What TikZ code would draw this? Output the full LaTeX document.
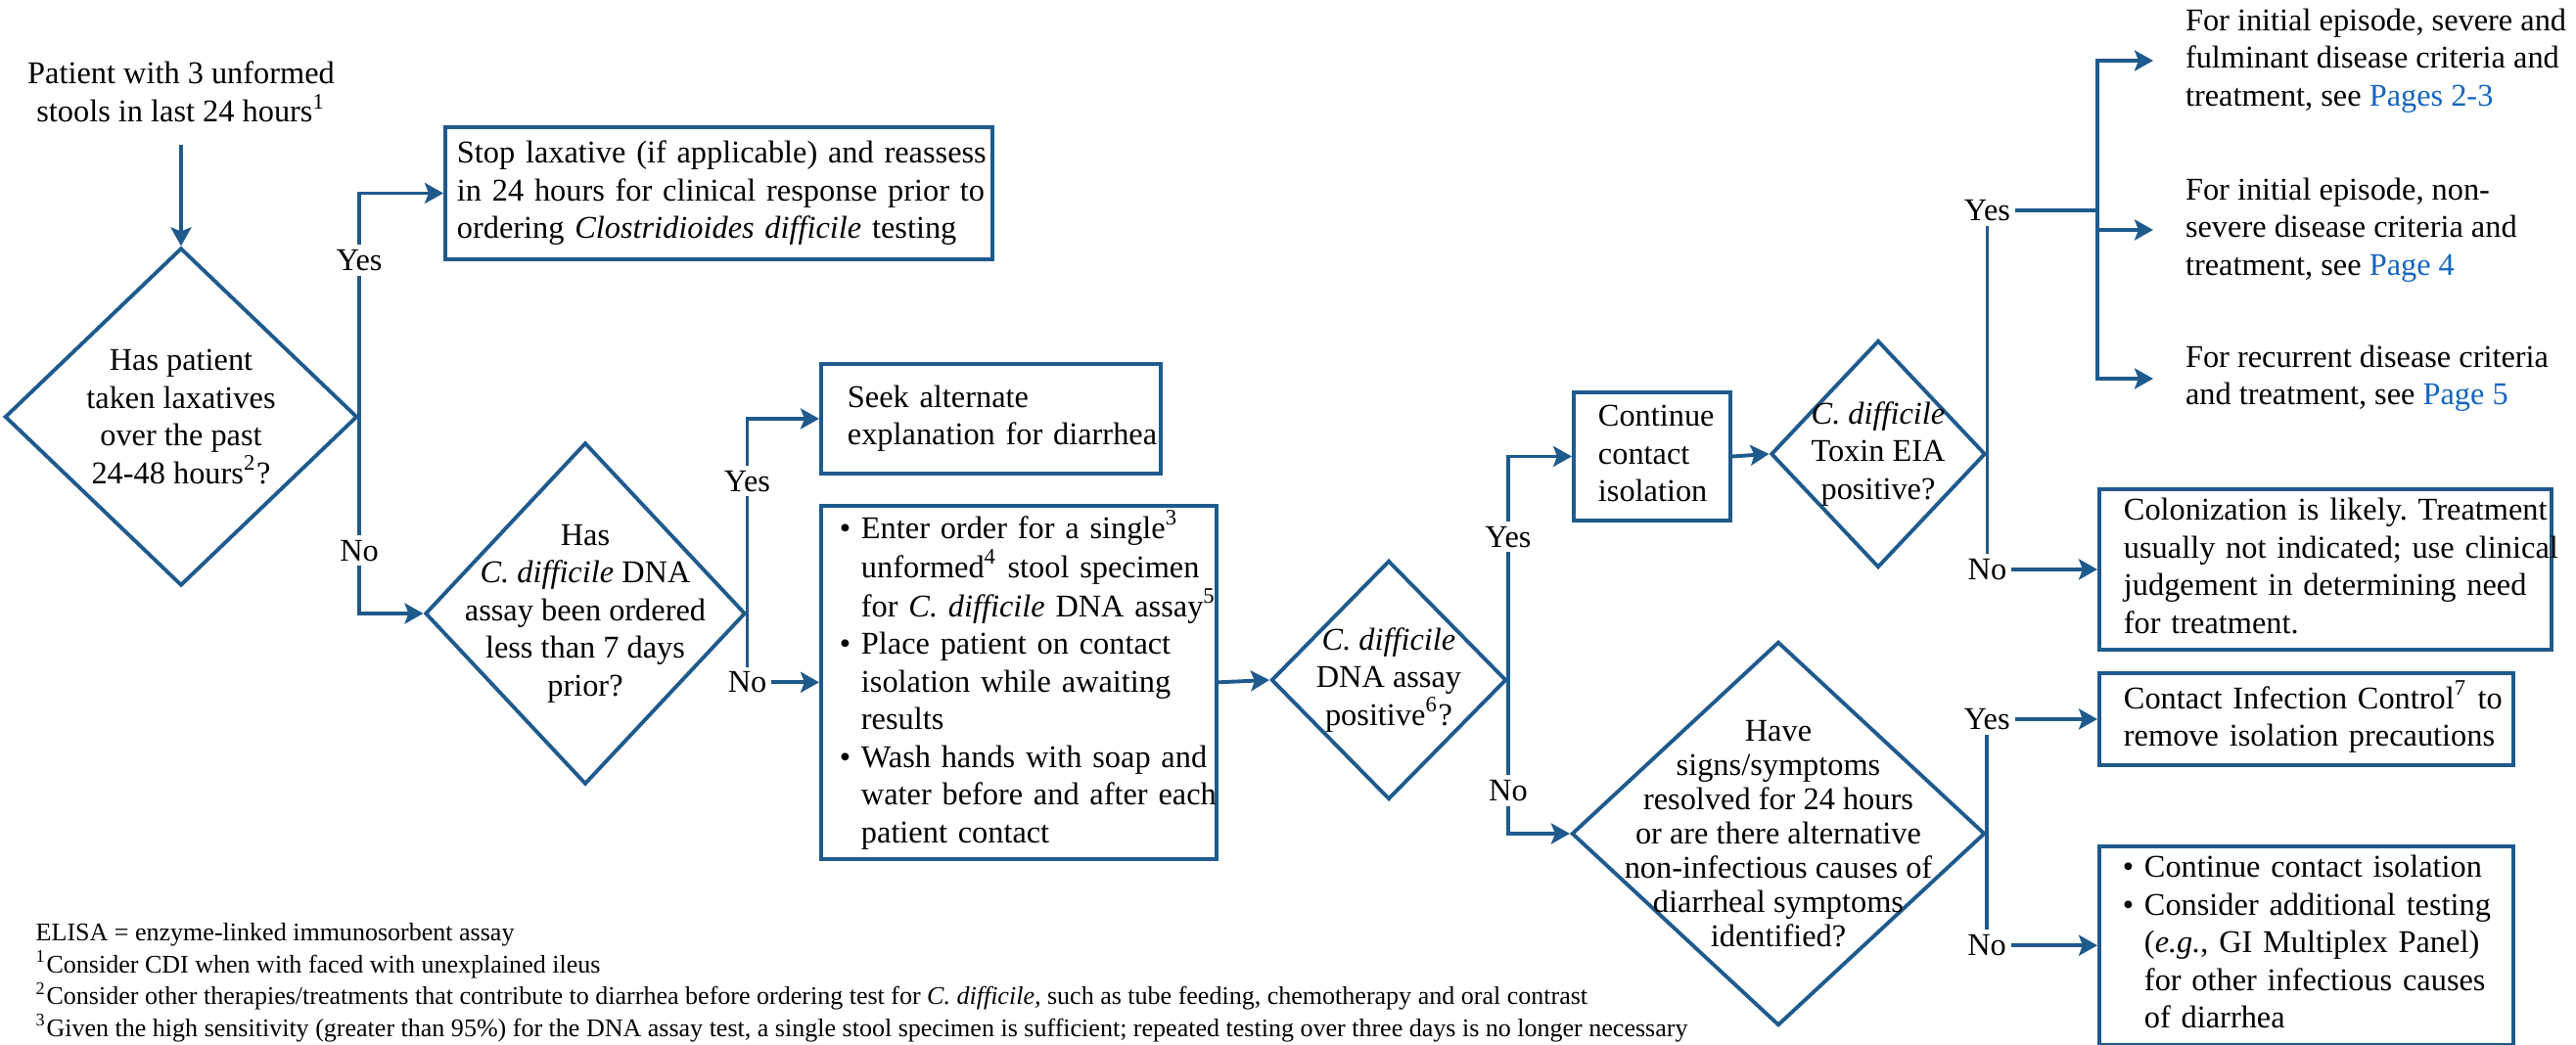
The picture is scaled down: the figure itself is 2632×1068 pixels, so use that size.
\documentclass[tikz,border=0pt]{standalone}
\usepackage{fontspec}
\setmainfont{Liberation Serif}
\usetikzlibrary{arrows.meta, shapes.geometric}
\definecolor{flow}{HTML}{1F5A8D}
\definecolor{pagelink}{HTML}{1565C0}
\frenchspacing
\newcommand{\mainsize}{\fontsize{9.2pt}{10.95pt}\selectfont}
\newcommand{\tightsize}{\fontsize{9.2pt}{9.96pt}\selectfont}
\newcommand{\notesize}{\fontsize{7.4pt}{9.25pt}\selectfont}
\newcommand{\rows}[1]{\begin{tabular}{@{}l@{}}#1\end{tabular}}
\newcommand{\bul}{\makebox[0.22cm][l]{\textbullet}}
\newcommand{\ind}{\hspace*{0.22cm}}
\begin{document}
\begin{tikzpicture}[x=0.01cm, y=-0.01cm,
    every node/.style={font=\mainsize},
    stepbox/.style={draw=flow, line width=1.1pt, rectangle, anchor=north west, align=left, inner ysep=0.05cm},
    decision/.style={draw=flow, line width=1.1pt, diamond, inner sep=0pt},
    plain/.style={inner sep=0pt, align=left},
    lbl/.style={fill=white, inner sep=0.05cm},
    conn/.style={draw=flow, line width=1.1pt, -{Stealth[length=0.19cm, width=0.21cm, inset=0.04cm]}},
    trunk/.style={draw=flow, line width=1.1pt}]
    \useasboundingbox (0,0) rectangle (2632,1068);

    \node[align=center, inner sep=0pt] (start) at (185,94) {Patient with 3 unformed\\stools in last 24 hours\textsuperscript{1}};
    \node[decision, minimum width=3.6cm, minimum height=3.45cm,
        label={[align=center]center:{Has patient\\taken laxatives\\over the past\\24-48 hours\textsuperscript{2}?}}] (d1) at (185,426) {};
    \node[stepbox, text width=5.35cm, inner xsep=0.12cm, minimum height=1.35cm] (stop) at (453,128)
        {\rows{Stop laxative (if applicable) and reassess\\in 24 hours for clinical response prior to\\ordering \textit{Clostridioides difficile} testing}};
    \node[decision, minimum width=3.27cm, minimum height=3.49cm,
        label={[align=center]center:{Has\\\textit{C. difficile} DNA\\assay been ordered\\less than 7 days\\prior?}}] (d2) at (598,627) {};
    \node[stepbox, text width=2.93cm, inner xsep=0.27cm, minimum height=1.12cm] (seek) at (837,370)
        {\rows{Seek alternate\\explanation for diarrhea}};
    \node[stepbox, text width=3.66cm, inner xsep=0.19cm, minimum height=3.6cm] (order) at (837,515)
        {\rows{\bul Enter order for a single\textsuperscript{3}\\\ind unformed\textsuperscript{4} stool specimen\\\ind for \textit{C. difficile} DNA assay\textsuperscript{5}\\\bul Place patient on contact\\\ind isolation while awaiting\\\ind results\\\bul Wash hands with soap and\\\ind water before and after each\\\ind patient contact}};
    \node[decision, minimum width=2.4cm, minimum height=2.44cm,
        label={[align=center]center:{\textit{C. difficile}\\DNA assay\\positive\textsuperscript{6}?}}] (d3) at (1419,695) {};
    \node[stepbox, text width=1.1cm, inner xsep=0.25cm, minimum height=1.31cm] (cont) at (1606,399)
        {\rows{Continue\\contact\\isolation}};
    \node[decision, minimum width=2.19cm, minimum height=2.32cm,
        label={[align=center]center:{\textit{C. difficile}\\Toxin EIA\\positive?}}] (d4) at (1919,464) {};
    \node[decision, minimum width=4.22cm, minimum height=3.92cm,
        label={[align=center, font=\tightsize]center:{Have\\signs/symptoms\\resolved for 24 hours\\or are there alternative\\non-infectious causes of\\diarrheal symptoms\\identified?}}] (d5) at (1817,852) {};

    \coordinate (fork) at (2143,215);
    \node[plain, anchor=west, outer xsep=0.33cm] (p23) at (2200,62)
        {For initial episode, severe and\\fulminant disease criteria and\\treatment, see \textcolor{pagelink}{Pages 2-3}};
    \node[plain, anchor=west, outer xsep=0.33cm] (p4) at (2200,235)
        {For initial episode, non-\\severe disease criteria and\\treatment, see \textcolor{pagelink}{Page 4}};
    \node[plain, anchor=west, outer xsep=0.33cm] (p5) at (2200,387)
        {For recurrent disease criteria\\and treatment, see \textcolor{pagelink}{Page 5}};
    \node[stepbox, text width=4.12cm, inner xsep=0.25cm, minimum height=1.63cm] (colon) at (2143,498)
        {\rows{Colonization is likely. Treatment\\usually not indicated; use clinical\\judgement in determining need\\for treatment.}};
    \node[stepbox, text width=3.73cm, inner xsep=0.25cm, minimum height=0.94cm] (infect) at (2143,686)
        {\rows{Contact Infection Control\textsuperscript{7} to\\remove isolation precautions}};
    \node[stepbox, text width=3.75cm, inner xsep=0.24cm, minimum height=2.02cm] (other) at (2143,863)
        {\rows{\bul Continue contact isolation\\\bul Consider additional testing\\\ind (\textit{e.g.}, GI Multiplex Panel)\\\ind for other infectious causes\\\ind of diarrhea}};

    \node[plain, font=\notesize, anchor=north west] (notes) at (36,943)
        {ELISA = enzyme-linked immunosorbent assay\\
        \textsuperscript{1}Consider CDI when with faced with unexplained ileus\\
        \textsuperscript{2}Consider other therapies/treatments that contribute to diarrhea before ordering test for \textit{C. difficile,} such as tube feeding, chemotherapy and oral contrast\\
        \textsuperscript{3}Given the high sensitivity (greater than 95\%) for the DNA assay test, a single stool specimen is sufficient; repeated testing over three days is no longer necessary};

    \draw[conn, shorten <=0.22cm] (start) -- (d1);
    \draw[conn] (d1.east) |- node[lbl, pos=0.35] {Yes} (stop.west);
    \draw[conn] (d1.east) |- node[lbl, pos=0.34] {No} (d2.west);
    \draw[conn] (d2.east) |- node[lbl, pos=0.34] {Yes} (seek.west);
    \draw[conn] (d2.east) |- node[lbl] {No} (order.west);
    \draw[conn] (order.east) -- (d3.west);
    \draw[conn] (d3.east) |- node[lbl, pos=0.32] {Yes} (cont.west);
    \draw[conn] (d3.east) |- node[lbl, pos=0.36] {No} (d5.west);
    \draw[conn] (cont.east) -- (d4.west);
    \draw[trunk] (d4.east) |- node[lbl] {Yes} (fork);
    \draw[conn] (fork) |- (p23.west);
    \draw[conn] (fork) |- (p4.west);
    \draw[conn] (fork) |- (p5.west);
    \draw[conn] (d4.east) |- node[lbl] {No} (colon.west);
    \draw[conn] (d5.east) |- node[lbl] {Yes} (infect.west);
    \draw[conn] (d5.east) |- node[lbl] {No} (other.west);
\end{tikzpicture}
\end{document}
